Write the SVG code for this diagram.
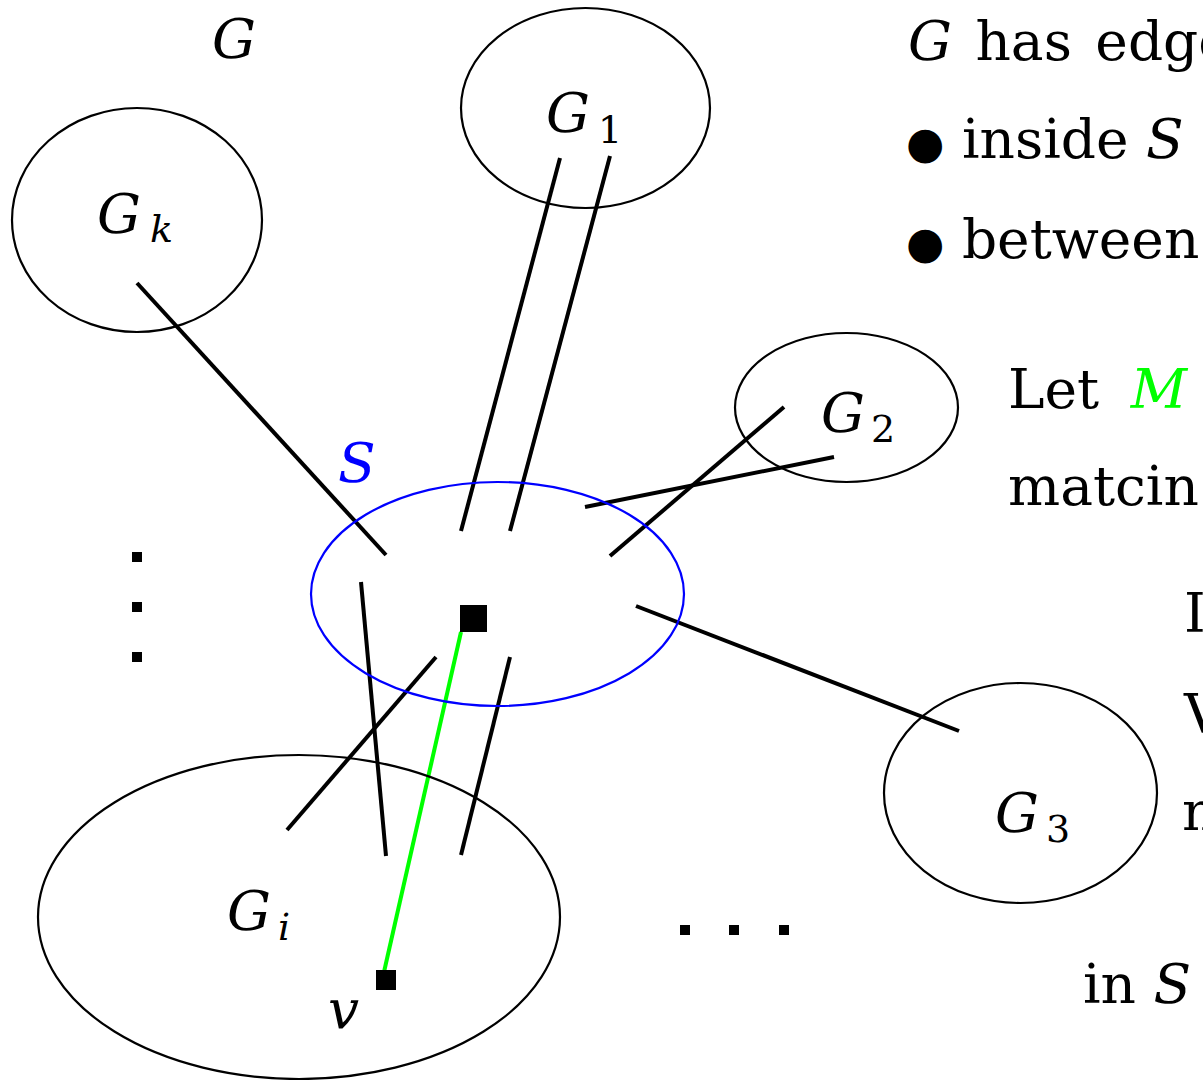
<svg xmlns="http://www.w3.org/2000/svg" width="1203" height="1080" viewBox="0 0 1203 1080">
<style>
.node{fill:none;stroke:#000;stroke-width:2.2}
.set{fill:none;stroke:#0000ff;stroke-width:2.2}
.e{stroke:#000;stroke-width:4;fill:none}
.m{stroke:#00ff00;stroke-width:4;fill:none}
text{font-family:"DejaVu Serif","Liberation Serif",serif;font-size:55px;fill:#000}
.it{font-style:italic}
.sub{font-size:38px}
.bul{font-family:"DejaVu Sans",sans-serif;font-size:44px}
</style>
<rect width="1203" height="1080" fill="#fff"/>
<g id="connectors">
<line class="e" x1="137" y1="283" x2="386" y2="555"/>
<line class="e" x1="560" y1="158" x2="461" y2="531"/>
<line class="e" x1="610" y1="156" x2="510" y2="531"/>
<line class="e" x1="585" y1="507" x2="834" y2="457"/>
<line class="e" x1="784" y1="407" x2="610" y2="556"/>
<line class="e" x1="636" y1="606" x2="959" y2="731"/>
<line class="e" x1="361" y1="582" x2="386" y2="856"/>
<line class="e" x1="436" y1="657" x2="287" y2="830"/>
<line class="e" x1="510" y1="657" x2="461" y2="855"/>
<line class="m" x1="461" y1="632" x2="384" y2="972"/>
</g>
<g id="G_label"><text class="it" x="212" y="58">G</text></g>
<g id="G1"><ellipse class="node" cx="585.5" cy="108" rx="124.5" ry="100"/><text class="it" x="546" y="132">G</text><text class="sub" x="598" y="143">1</text></g>
<g id="Gk"><ellipse class="node" cx="137" cy="220" rx="125" ry="112"/><text class="it" x="97" y="233">G</text><text class="it sub" x="150" y="242">k</text></g>
<g id="G2"><ellipse class="node" cx="846.5" cy="407.5" rx="111.5" ry="74.5"/><text class="it" x="821" y="432">G</text><text class="sub" x="871" y="442">2</text></g>
<g id="G3"><ellipse class="node" cx="1020.5" cy="793" rx="136.5" ry="110"/><text class="it" x="995" y="832">G</text><text class="sub" x="1046" y="842">3</text></g>
<g id="Gi"><ellipse class="node" cx="299" cy="917" rx="261" ry="162"/><text class="it" x="227" y="930">G</text><text class="it sub" x="278" y="940">i</text></g>
<g id="S"><ellipse class="set" cx="497.5" cy="594" rx="186.5" ry="112"/><text class="it" x="338" y="482" style="fill:#0000ff">S</text></g>
<g id="u"><rect x="460" y="605" width="27" height="27" fill="#000"/></g>
<g id="v"><rect x="376" y="970" width="20" height="20" fill="#000"/><text class="it" x="328" y="1028">v</text></g>
<g id="vdots"><rect x="132" y="552" width="10" height="10"/><rect x="132" y="602" width="10" height="10"/><rect x="132" y="652" width="10" height="10"/></g>
<g id="hdots"><rect x="680" y="925" width="10" height="10"/><rect x="729" y="925" width="10" height="10"/><rect x="779" y="925" width="10" height="10"/></g>
<g id="notes">
<text x="908" y="60" word-spacing="6"><tspan class="it">G</tspan> has edge</text>
<text x="906" y="158"><tspan class="bul">●</tspan> inside <tspan class="it">S</tspan></text>
<text x="906" y="258"><tspan class="bul">●</tspan> between</text>
<text x="1008" y="408" word-spacing="14">Let <tspan class="it" style="fill:#00ff00">M</tspan></text>
<text x="1008" y="505">matcin</text>
<text x="1184" y="632">I</text>
<text x="1184" y="733">V</text>
<text x="1182" y="830">n</text>
<text x="1083" y="1003">in <tspan class="it">S</tspan></text>
</g>
</svg>
